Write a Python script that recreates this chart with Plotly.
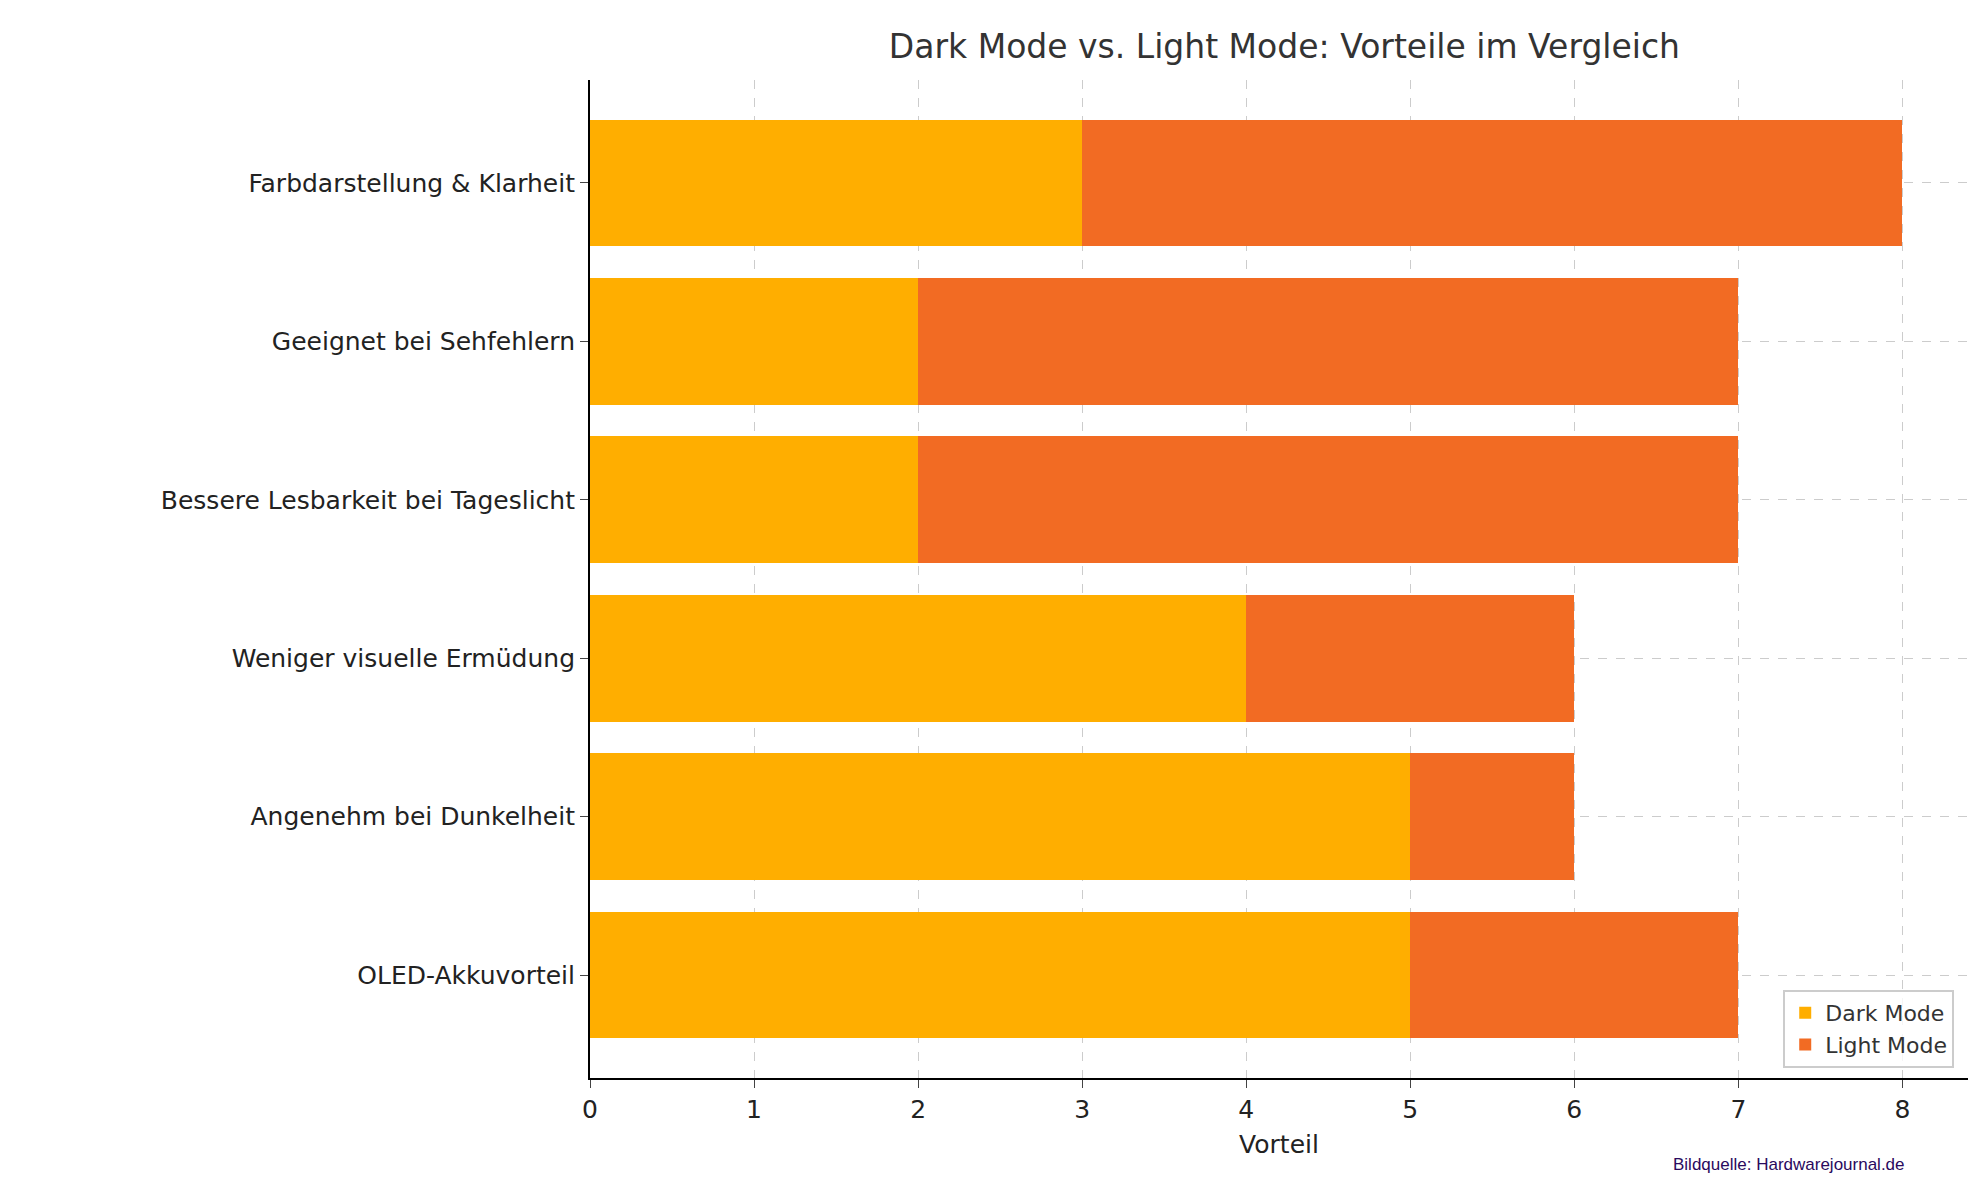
import plotly.graph_objects as go

categories = ["OLED-Akkuvorteil", "Angenehm bei Dunkelheit", "Weniger visuelle Ermüdung",
              "Bessere Lesbarkeit bei Tageslicht", "Geeignet bei Sehfehlern", "Farbdarstellung & Klarheit"]
dark_mode = [5, 5, 4, 2, 2, 3]
light_mode = [2, 1, 2, 5, 5, 5]

fig = go.Figure()
fig.add_trace(go.Bar(y=categories, x=dark_mode, orientation="h", name="Dark Mode",
                     marker=dict(color="#FFAE00", line_width=0), width=0.8))
fig.add_trace(go.Bar(y=categories, x=light_mode, orientation="h", name="Light Mode",
                     marker=dict(color="#F26B23", line_width=0), width=0.8))

fig.update_layout(
    barmode="stack",
    width=1979, height=1180,
    plot_bgcolor="white", paper_bgcolor="white",
    font=dict(family="DejaVu Sans", color="#222222"),
    margin=dict(l=582, r=19, t=72, b=110),
    title=dict(text="Dark Mode vs. Light Mode: Vorteile im Vergleich", x=0.645, xanchor="center",
               y=0.967, yanchor="middle", font=dict(size=33, color="#333333")),
    legend=dict(x=0.99, y=0.01, xanchor="right", yanchor="bottom", bgcolor="rgba(255,255,255,0.8)",
                bordercolor="#cccccc", borderwidth=2, font=dict(size=22, color="#333333"),
                traceorder="normal"),
    bargap=0.2,
)
fig.update_xaxes(range=[0, 8.4], dtick=1, title=dict(text="Vorteil", font=dict(size=25), standoff=12),
                 tickfont=dict(size=25), showgrid=True, gridcolor="#cccccc", griddash="dash",
                 showline=True, linecolor="black", linewidth=2, ticks="outside", ticklen=8,
                 zeroline=False)
fig.update_yaxes(range=[-0.65, 5.65], tickfont=dict(size=25), showgrid=True, gridcolor="#cccccc",
                 griddash="dash", showline=True, linecolor="black", linewidth=2,
                 ticks="outside", ticklen=8)
fig.add_annotation(text="Bildquelle: Hardwarejournal.de", xref="paper", yref="paper",
                   x=0.87, y=-0.075, xanchor="center", yanchor="top", showarrow=False,
                   font=dict(size=17, color="#2a0a5e", family="Liberation Sans"))

fig.write_html("out.html")
